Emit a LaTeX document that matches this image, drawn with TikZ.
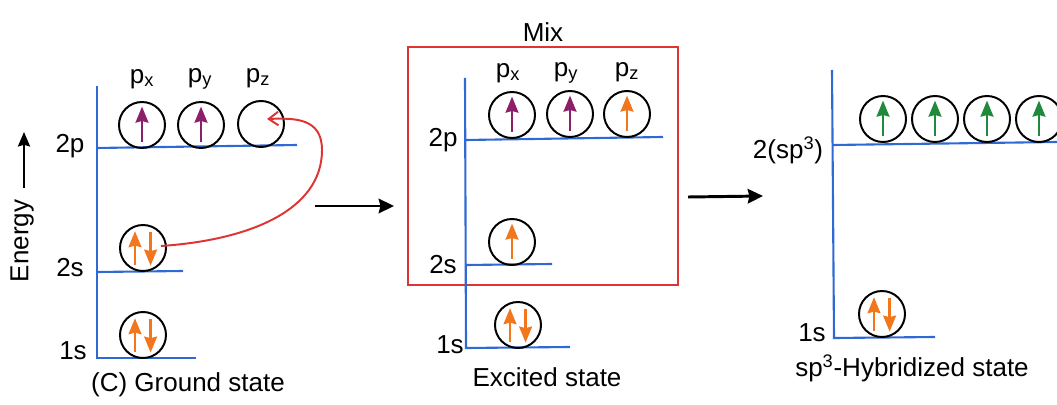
\documentclass[tikz,border=0pt]{standalone}
\usepackage{fontspec}
\setmainfont{Liberation Sans}
\usetikzlibrary{arrows.meta,positioning,calc}
\definecolor{lvlblue}{HTML}{2F6AD4}
\definecolor{elpurple}{HTML}{8C1E6A}
\definecolor{elorange}{HTML}{F2761C}
\definecolor{elgreen}{HTML}{1F8A3C}
\definecolor{mixred}{HTML}{DE3434}
\newcommand{\upel}[2]{\draw[elec,#2] ([yshift=-0.42cm]#1.center) -- ([yshift=0.46cm]#1.center);}
\newcommand{\pairel}[1]{\draw[elec,elorange] ([xshift=-0.2cm,yshift=-0.42cm]#1.center) -- ([xshift=-0.2cm,yshift=0.42cm]#1.center);
  \draw[elec,elorange] ([xshift=0.19cm,yshift=0.4cm]#1.center) -- ([xshift=0.19cm,yshift=-0.44cm]#1.center);}

\begin{document}
\begin{tikzpicture}[x=0.025cm,y=-0.025cm,
  font=\fontsize{18.5}{22}\selectfont,
  orb/.style={draw,circle,line width=1.4pt,minimum size=1.15cm,inner sep=0pt,outer sep=0pt},
  lvl/.style={draw=lvlblue,line width=1.5pt},
  elec/.style={line width=1.8pt,-{Stealth[length=0.4cm,width=0.32cm,inset=0.04cm]}},
  goes/.style={line width=2.1pt,-{Stealth[length=0.38cm,width=0.36cm,inset=0.04cm]}}]
\useasboundingbox (0,0) rectangle (1057,405);
% ground state
\draw[lvl] (97,86) -- (97,358) -- (196,358); \draw[lvl] (97,148) -- (297,145); \draw[lvl] (97,272) -- (183,271);
\node[orb] (pxg) at (142,125) {}; \node[orb] (pyg) at (201,125) {}; \node[orb] (pzg) at (261,124) {};
\node[orb] (s2g) at (143,248) {}; \node[orb] (s1g) at (143,335) {};
\node (lpxg) at (142,79) {p\textsubscript{x}}; \node (lpyg) at (200,79) {p\textsubscript{y}}; \node (lpzg) at (258,78) {p\textsubscript{z}};
\node (l2pg) at (70,146) {2p}; \node (l2sg) at (70,268) {2s}; \node (l1sg) at (73,351) {1s};
\upel{pxg}{elpurple} \upel{pyg}{elpurple} \pairel{s2g} \pairel{s1g}
\draw[mixred,line width=1.4pt,-{Straight Barb[length=0.24cm,width=0.34cm]}] ($(s2g.center)+(18,-2)$)
  .. controls (250,240) and (322,210) .. (322,150) .. controls (322,118) and (295,118) .. ($(pzg.center)+(6,-5)$);
\node[rotate=90] (energy) at (22,241) {Energy};
\coordinate (en0) at (24,188); \coordinate (en1) at (24,132);
\draw[line width=1.7pt,-{Stealth[length=0.36cm,width=0.3cm,inset=0.04cm]}] (en0) -- (en1);
\node (ground) at (188,385) {(C) Ground state};
\coordinate (go1s) at (315,206); \coordinate (go1e) at (394,206);
\draw[goes] (go1s) -- (go1e);
% excited state
\node[draw=mixred,line width=1.4pt,minimum width=6.75cm,minimum height=5.95cm,inner sep=0pt] (mix) at (543,166) {};
\node[above=0pt of mix] (lmix) {Mix};
\draw[lvl] (465,78) -- (466,348) -- (570,347); \draw[lvl] (466,140) -- (663,137); \draw[lvl] (466,265) -- (552,264);
\node[orb] (pxe) at (512,115) {}; \node[orb] (pye) at (570,114) {}; \node[orb] (pze) at (627,114) {};
\node[orb] (s2e) at (512,242) {}; \node[orb] (s1e) at (518,325) {};
\node (lpxe) at (508,73) {p\textsubscript{x}}; \node (lpye) at (566,73) {p\textsubscript{y}}; \node (lpze) at (627,72) {p\textsubscript{z}};
\node (l2pe) at (443,140) {2p}; \node (l2se) at (443,265) {2s}; \node (l1se) at (450,345) {1s};
\upel{pxe}{elpurple} \upel{pye}{elpurple} \upel{pze}{elorange} \upel{s2e}{elorange} \pairel{s1e}
\node (excited) at (547,377) {Excited state};
\coordinate (go2s) at (688,197); \coordinate (go2e) at (763,196);
\draw[goes] (go2s) -- (go2e);
% sp3 hybridized state
\draw[lvl] (832,70) -- (834,338) -- (935,337); \draw[lvl] (833,145) -- (1057,142);
\foreach \i/\xx in {1/883,2/935,3/987,4/1039} {\node[orb] (hy\i) at (\xx,119) {}; \upel{hy\i}{elgreen}}
\node[orb] (s1h) at (882,314) {}; \pairel{s1h}
\node (lsp3) at (788,150) {2(sp\textsuperscript{3})}; \node (l1sh) at (812,333) {1s};
\node (hybrid) at (912,368) {sp\textsuperscript{3}-Hybridized state};
\end{tikzpicture}
\end{document}
